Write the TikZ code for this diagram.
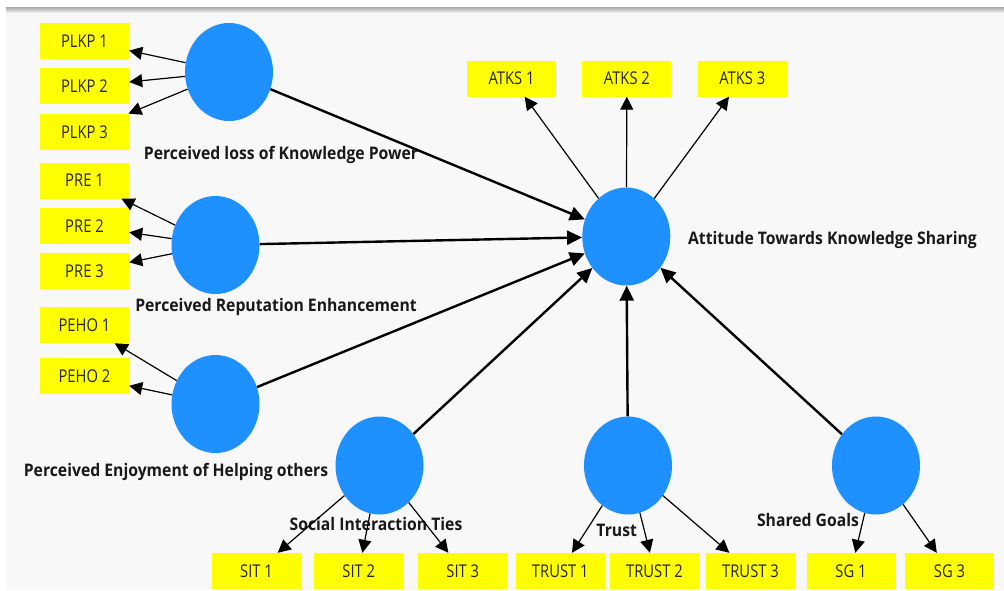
\documentclass[tikz,border=0pt]{standalone}
\usepackage{fontspec}
\setmainfont{Open Sans}[FakeStretch=0.84]
\newfontfamily\lvfamily{Open Sans}[FakeStretch=0.91]
\usepackage{xcolor}
\usepackage{tikz}
\usetikzlibrary{arrows.meta, positioning, shapes.geometric}

\definecolor{itemyellow}{RGB}{255,255,0}
\definecolor{latblue}{RGB}{30,144,255}
\definecolor{canvasgray}{RGB}{248,248,248}
\newcommand{\itemfont}{\fontsize{17.6}{20}\selectfont}
\newcommand{\labelfont}{\lvfamily\fontsize{17.3}{20}\selectfont\bfseries}

\begin{document}
\begin{tikzpicture}[
    x=1pt, y=-1pt,
    node distance=9pt and 26pt,
    ind/.style={fill=itemyellow, minimum width=89pt, minimum height=36pt, inner sep=0pt, font=\itemfont, text=black!85},
    lat/.style={ellipse, fill=latblue, minimum width=88pt, minimum height=98pt, inner sep=0pt},
    lbl/.style={anchor=base, inner sep=0pt, font=\labelfont, text=black!90},
    loading/.style={-{Triangle[length=13pt, width=13pt]}, line width=1.2pt},
    effect/.style={-{Triangle[length=15pt, width=14pt]}, line width=2.4pt}
]
    \useasboundingbox (0,0) rectangle (1004,590);
    \fill[white] (0,0) rectangle (1004,590);
    \fill[canvasgray] (6,10) rectangle (1004,590);
    \shade[top color=black!32, bottom color=black!6] (6,7.5) rectangle (1004,12.5);

    % latent variables
    \node[lat] (plkp) at (229,72) {};
    \node[lat] (pre) at (215.5,245) {};
    \node[lat] (peho) at (215.5,404) {};
    \node[lat] (atks) at (626.3,236.5) {};
    \node[lat] (sit) at (379.5,465.5) {};
    \node[lat] (trust) at (628,465.5) {};
    \node[lat] (sg) at (876,465.5) {};

    \node[lbl] (plkplbl) at (281,159.5) {Perceived loss of Knowledge Power};
    \node[lbl] (prelbl) at (276,311) {Perceived Reputation Enhancement};
    \node[lbl] (peholbl) at (176,476) {Perceived Enjoyment of Helping others};
    \node[lbl] (atkslbl) at (832.5,244) {Attitude Towards Knowledge Sharing};
    \node[lbl] (sitlbl) at (376,530) {Social Interaction Ties};
    \node[lbl] (trustlbl) at (616.7,536) {Trust};
    \node[lbl] (sglbl) at (808,526.5) {Shared Goals};

    % indicators, left column
    \node[ind] (plkp1) at (84.5,41) {PLKP 1};
    \node[ind, below=of plkp1] (plkp2) {PLKP 2};
    \node[ind, below=of plkp2] (plkp3) {PLKP 3};
    \node[ind] (pre1) at (84.5,180.5) {PRE 1};
    \node[ind, below=of pre1] (pre2) {PRE 2};
    \node[ind, below=of pre2] (pre3) {PRE 3};
    \node[ind] (peho1) at (84.5,325) {PEHO 1};
    \node[ind, below=15pt of peho1] (peho2) {PEHO 2};

    % indicators, top row
    \node[ind] (atks1) at (511.5,78.5) {ATKS 1};
    \node[ind, right=of atks1] (atks2) {ATKS 2};
    \node[ind, right=of atks2] (atks3) {ATKS 3};

    % indicators, bottom row
    \node[ind] (sit1) at (256.5,571) {SIT 1};
    \node[ind] (sit2) at (358.8,571) {SIT 2};
    \node[ind] (sit3) at (462.8,571) {SIT 3};
    \node[ind] (trust1) at (560.3,571) {TRUST 1};
    \node[ind] (trust2) at (654.5,571) {TRUST 2};
    \node[ind] (trust3) at (750.5,571) {TRUST 3};
    \node[ind] (sg1) at (851,571) {SG 1};
    \node[ind] (sg3) at (949.5,571) {SG 3};

    % outer loadings
    \foreach \lv/\items in {plkp/{plkp1,plkp2,plkp3}, pre/{pre1,pre2,pre3}, peho/{peho1,peho2},
                            atks/{atks1,atks2,atks3}, sit/{sit1,sit2,sit3},
                            trust/{trust1,trust2,trust3}, sg/{sg1,sg3}}
        \foreach \it in \items
            \draw[loading] (\lv) -- (\it);

    % structural paths
    \foreach \src in {plkp, pre, peho, sit, trust, sg}
        \draw[effect] (\src) -- (atks);
\end{tikzpicture}
\end{document}
